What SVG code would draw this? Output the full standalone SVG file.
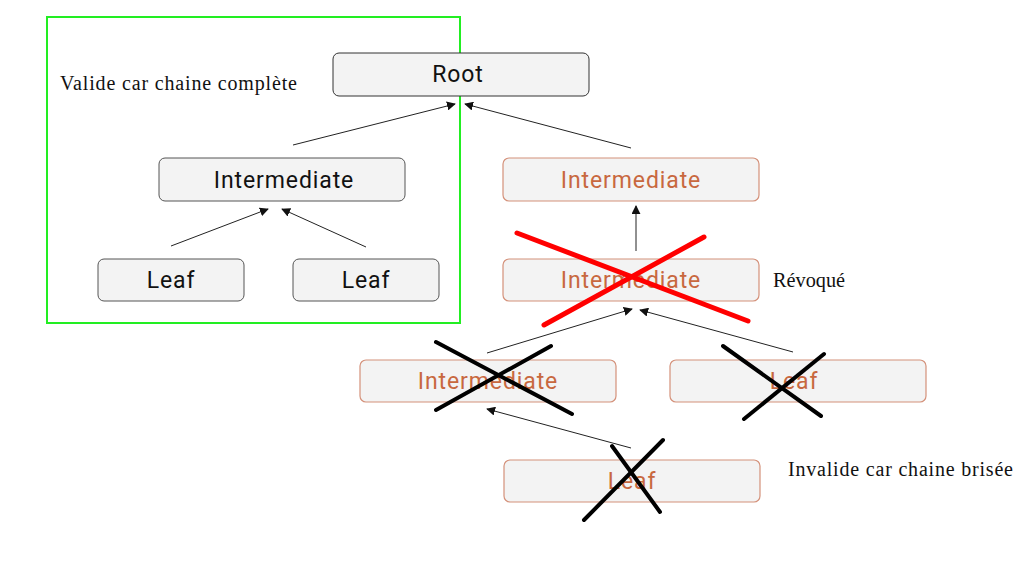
<svg xmlns="http://www.w3.org/2000/svg" width="1024" height="577" viewBox="0 0 1024 577">
<defs>
<marker id="ah" viewBox="0 0 10 10" refX="9" refY="5" markerWidth="9" markerHeight="9" markerUnits="userSpaceOnUse" orient="auto">
<path d="M0,0 L10,5 L0,10 z" fill="#111"/>
</marker>
<style>
.n{fill:#f3f3f3;stroke:#555;stroke-width:1}
.r{fill:#f3f3f3;stroke:#d4917a;stroke-width:1.2}
.t{font-family:Roboto,"Liberation Sans",sans-serif;font-size:23px;letter-spacing:0.9px;fill:#111;text-anchor:middle}
.to{font-family:Roboto,"Liberation Sans",sans-serif;font-size:23px;letter-spacing:0.9px;fill:#c8683f;text-anchor:middle}
.c{stroke:#222;stroke-width:1;fill:none;marker-end:url(#ah)}
.s{font-family:"Liberation Serif",serif;font-size:20px;fill:#111}
.xk{stroke:#000;stroke-width:4;stroke-linecap:round}
.xr{stroke:#ff0000;stroke-width:5;stroke-linecap:round}
</style>
</defs>
<rect width="1024" height="577" fill="#fff"/>
<g id="valid-box"><rect x="47" y="17" width="413" height="306" fill="none" stroke="#22ee22" stroke-width="2"/></g>
<g id="root"><rect class="n" x="333" y="53" width="256" height="43" rx="6" style="stroke:#333"/><text class="t" x="458" y="82">Root</text></g>
<g id="int-left"><rect class="n" x="159" y="158" width="246" height="43" rx="6"/><text class="t" x="284" y="188">Intermediate</text></g>
<g id="leaf1"><rect class="n" x="98" y="259" width="146" height="42" rx="6"/><text class="t" x="171" y="288">Leaf</text></g>
<g id="leaf2"><rect class="n" x="293" y="259" width="146" height="42" rx="6"/><text class="t" x="366" y="288">Leaf</text></g>
<g id="int-right"><rect class="r" x="503" y="158" width="256" height="43" rx="6"/><text class="to" x="631" y="188">Intermediate</text></g>
<g id="int-revoked"><rect class="r" x="503" y="259" width="256" height="42" rx="6"/><text class="to" x="631" y="288">Intermediate</text></g>
<g id="int-low"><rect class="r" x="360" y="360" width="256" height="42" rx="6"/><text class="to" x="488" y="389">Intermediate</text></g>
<g id="leaf-right"><rect class="r" x="670" y="360" width="256" height="42" rx="6"/><text class="to" x="794" y="389">Leaf</text></g>
<g id="leaf-bottom"><rect class="r" x="504" y="460" width="256" height="42" rx="6"/><text class="to" x="632" y="489">Leaf</text></g>
<g id="connectors">
<line class="c" x1="293" y1="145" x2="455" y2="104"/>
<line class="c" x1="631" y1="148" x2="465" y2="104"/>
<line class="c" x1="171" y1="246" x2="268" y2="209"/>
<line class="c" x1="366" y1="247" x2="282" y2="209"/>
<line class="c" x1="636" y1="251" x2="636" y2="206"/>
<line class="c" x1="487" y1="353" x2="632" y2="309"/>
<line class="c" x1="793" y1="352" x2="640" y2="310"/>
<line class="c" x1="631" y1="448" x2="487" y2="409"/>
</g>
<g id="labels">
<text class="s" x="60" y="90" textLength="237" lengthAdjust="spacing">Valide car chaine complète</text>
<text class="s" x="773" y="287" textLength="72" lengthAdjust="spacingAndGlyphs">Révoqué</text>
<text class="s" x="788" y="476" textLength="225" lengthAdjust="spacing">Invalide car chaine brisée</text>
</g>
<g id="crosses">
<line class="xr" x1="517" y1="233" x2="748" y2="321"/>
<line class="xr" x1="704" y1="237" x2="544" y2="325"/>
<line class="xk" x1="436" y1="342" x2="572" y2="414"/>
<line class="xk" x1="551" y1="346" x2="436" y2="410"/>
<line class="xk" x1="723" y1="346" x2="821" y2="416"/>
<line class="xk" x1="824" y1="354" x2="744" y2="419"/>
<line class="xk" x1="612" y1="446" x2="660" y2="512"/>
<line class="xk" x1="663" y1="440" x2="584" y2="520"/>
</g>
</svg>
